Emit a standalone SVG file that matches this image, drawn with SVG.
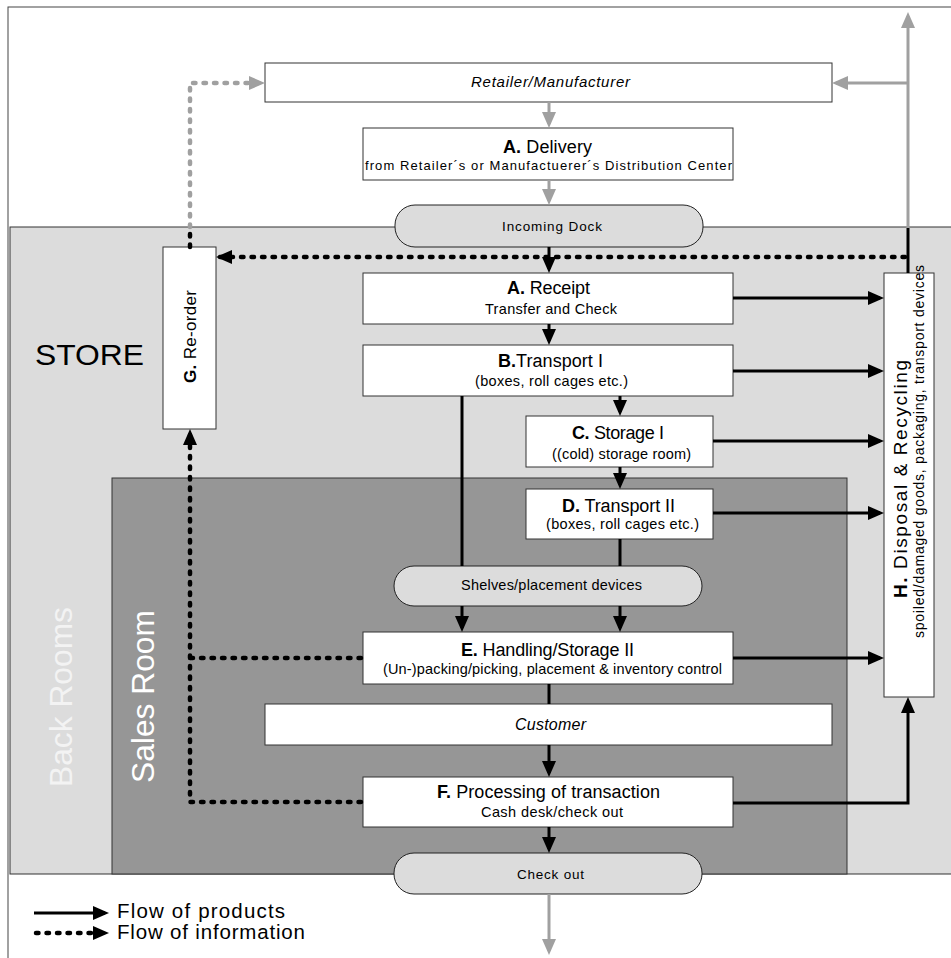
<svg xmlns="http://www.w3.org/2000/svg" width="951" height="958" viewBox="0 0 951 958">
<style>
text{font-family:"Liberation Sans",Arial,sans-serif;fill:#000}
.box{fill:#fff;stroke:#333;stroke-width:1}
.pill{fill:#dcdcdc;stroke:#222;stroke-width:1}
.t17{font-size:18px}
.t14{font-size:14.5px}
.t13{font-size:13.5px}
.it{font-style:italic}
.b{font-weight:bold}
.flow{fill:none;stroke:#000;stroke-width:3}
.grey{fill:none;stroke:#a0a0a0;stroke-width:3}
.info{fill:none;stroke:#000;stroke-width:4.5;stroke-dasharray:2.5 8;stroke-linecap:round}
.ginfo{fill:none;stroke:#a0a0a0;stroke-width:4.5;stroke-dasharray:2.5 8;stroke-linecap:round}
</style>
<defs>
<marker id="ab" markerUnits="userSpaceOnUse" markerWidth="16" markerHeight="14" refX="12" refY="7" orient="auto"><path d="M0,0 L16,7 L0,14 z" fill="#000"/></marker>
<marker id="ag" markerUnits="userSpaceOnUse" markerWidth="16" markerHeight="14" refX="12" refY="7" orient="auto"><path d="M0,0 L16,7 L0,14 z" fill="#a0a0a0"/></marker>
</defs>
<rect x="0" y="0" width="951" height="958" fill="#fff"/>
<rect x="8" y="7" width="960" height="970" fill="none" stroke="#444" stroke-width="1"/>
<g id="store">
<rect x="10" y="227" width="960" height="647" fill="#dcdcdc" stroke="#333" stroke-width="1"/>
<text x="35" y="365" font-size="30" textLength="109" lengthAdjust="spacingAndGlyphs">STORE</text>
<text transform="translate(72,697) rotate(-90)" font-size="31" text-anchor="middle" style="fill:#f3f3f3" textLength="180" lengthAdjust="spacingAndGlyphs">Back Rooms</text>
</g>
<g id="sales-room">
<rect x="112" y="478" width="735" height="396" fill="#969696" stroke="#333" stroke-width="1"/>
<text transform="translate(154,696.5) rotate(-90)" font-size="31" text-anchor="middle" style="fill:#fff" textLength="173" lengthAdjust="spacingAndGlyphs">Sales Room</text>
</g>
<g id="retailer">
<rect class="box" x="265" y="63" width="567" height="39"/>
<text class="it" x="550.5" y="87" font-size="15" text-anchor="middle" textLength="159" lengthAdjust="spacing">Retailer/Manufacturer</text>
</g>
<g id="delivery">
<rect class="box" x="363" y="128" width="370" height="52"/>
<text class="t17" x="547.5" y="153" text-anchor="middle" textLength="89" lengthAdjust="spacing"><tspan class="b">A.</tspan> Delivery</text>
<text x="548.5" y="170" font-size="13" text-anchor="middle" textLength="367" lengthAdjust="spacing">from Retailer´s or Manufactuerer´s Distribution Center</text>
</g>
<g id="incoming-dock">
<rect class="pill" x="395" y="205" width="308" height="42" rx="20" ry="20"/>
<text class="t13" x="552" y="231" text-anchor="middle" textLength="100" lengthAdjust="spacing">Incoming Dock</text>
</g>
<g id="reorder">
<rect class="box" x="163" y="247" width="53" height="182"/>
<text transform="translate(196,336.5) rotate(-90)" font-size="17" text-anchor="middle" textLength="93" lengthAdjust="spacing"><tspan class="b">G.</tspan> Re-order</text>
</g>
<g id="receipt">
<rect class="box" x="363" y="273" width="370" height="51"/>
<text class="t17" x="548.5" y="294" text-anchor="middle" textLength="83" lengthAdjust="spacing"><tspan class="b">A.</tspan> Receipt</text>
<text class="t14" x="551" y="314" text-anchor="middle" textLength="132" lengthAdjust="spacing">Transfer and Check</text>
</g>
<g id="transport1">
<rect class="box" x="363" y="345" width="370" height="51"/>
<text class="t17" x="550.5" y="367" text-anchor="middle" textLength="105" lengthAdjust="spacing"><tspan class="b">B.</tspan>Transport I</text>
<text class="t14" x="551.5" y="386" text-anchor="middle" textLength="153" lengthAdjust="spacing">(boxes, roll cages etc.)</text>
</g>
<g id="storage1">
<rect class="box" x="526" y="416" width="187" height="51"/>
<text class="t17" x="618" y="439" text-anchor="middle" textLength="92" lengthAdjust="spacing"><tspan class="b">C.</tspan> Storage I</text>
<text class="t14" x="621.5" y="459" text-anchor="middle" textLength="139" lengthAdjust="spacing">((cold) storage room)</text>
</g>
<g id="transport2">
<rect class="box" x="526" y="489" width="187" height="50"/>
<text class="t17" x="618.5" y="512" text-anchor="middle" textLength="113" lengthAdjust="spacing"><tspan class="b">D.</tspan> Transport II</text>
<text class="t14" x="622.5" y="529" text-anchor="middle" textLength="153" lengthAdjust="spacing">(boxes, roll cages etc.)</text>
</g>
<g id="shelves">
<rect class="pill" x="394" y="566" width="308" height="40" rx="20" ry="20"/>
<text class="t14" x="551.5" y="590" text-anchor="middle" textLength="181" lengthAdjust="spacing">Shelves/placement devices</text>
</g>
<g id="handling">
<rect class="box" x="363" y="632" width="370" height="52"/>
<text class="t17" x="547.5" y="656" text-anchor="middle" textLength="173" lengthAdjust="spacing"><tspan class="b">E.</tspan> Handling/Storage II</text>
<text class="t14" x="552.5" y="674" text-anchor="middle" textLength="339" lengthAdjust="spacing">(Un-)packing/picking, placement &amp; inventory control</text>
</g>
<g id="customer">
<rect class="box" x="265" y="704" width="567" height="41"/>
<text class="it" x="550.5" y="730" font-size="16" text-anchor="middle" textLength="71" lengthAdjust="spacing">Customer</text>
</g>
<g id="transaction">
<rect class="box" x="363" y="777" width="370" height="50"/>
<text class="t17" x="548.5" y="798" text-anchor="middle" textLength="223" lengthAdjust="spacing"><tspan class="b">F.</tspan> Processing of transaction</text>
<text class="t14" x="552" y="817" text-anchor="middle" textLength="142" lengthAdjust="spacing">Cash desk/check out</text>
</g>
<g id="checkout">
<rect class="pill" x="394" y="853" width="308" height="41" rx="20" ry="20"/>
<text class="t13" x="550.5" y="879" text-anchor="middle" textLength="67" lengthAdjust="spacing">Check out</text>
</g>
<g id="disposal">
<rect class="box" x="884" y="273" width="50" height="424"/>
<text transform="translate(907,479) rotate(-90)" font-size="19" text-anchor="middle" textLength="238" lengthAdjust="spacing"><tspan class="b">H.</tspan> Disposal &amp; Recycling</text>
<text transform="translate(924,451.5) rotate(-90)" font-size="14" text-anchor="middle" textLength="373" lengthAdjust="spacing">spoiled/damaged goods, packaging, transport devices</text>
</g>
<g id="connectors">
<path class="grey" d="M549,102 V124" marker-end="url(#ag)"/>
<path class="grey" d="M549,180 V201" marker-end="url(#ag)"/>
<path class="grey" d="M908,228 V16" marker-end="url(#ag)"/>
<path class="grey" d="M908,83 H836" marker-end="url(#ag)"/>
<path class="grey" d="M549,894 V951" marker-end="url(#ag)"/>
<path class="ginfo" d="M190,227 V83 H261" marker-end="url(#ag)"/>
<path class="info" d="M190,247 V229"/>
<path class="info" d="M905,257 H220" marker-end="url(#ab)"/>
<path class="info" d="M361,658 H190"/>
<path class="info" d="M361,802 H190 V433" marker-end="url(#ab)"/>
<path class="flow" d="M549,247 V269" marker-end="url(#ab)"/>
<path class="flow" d="M549,324 V341" marker-end="url(#ab)"/>
<path class="flow" d="M620,396 V412" marker-end="url(#ab)"/>
<path class="flow" d="M620,467 V485" marker-end="url(#ab)"/>
<path class="flow" d="M620,539 V566"/>
<path class="flow" d="M462,396 V566"/>
<path class="flow" d="M462,606 V628" marker-end="url(#ab)"/>
<path class="flow" d="M620,606 V628" marker-end="url(#ab)"/>
<path class="flow" d="M549,684 V704"/>
<path class="flow" d="M549,745 V773" marker-end="url(#ab)"/>
<path class="flow" d="M549,827 V849" marker-end="url(#ab)"/>
<path class="flow" d="M733,298 H880" marker-end="url(#ab)"/>
<path class="flow" d="M733,371 H880" marker-end="url(#ab)"/>
<path class="flow" d="M713,441 H880" marker-end="url(#ab)"/>
<path class="flow" d="M713,513 H880" marker-end="url(#ab)"/>
<path class="flow" d="M733,658 H880" marker-end="url(#ab)"/>
<path class="flow" d="M733,803 H908 V701" marker-end="url(#ab)"/>
<path class="flow" d="M908,273 V228"/>
</g>
<g id="legend">
<path class="flow" d="M34,913 H105" marker-end="url(#ab)"/>
<path class="info" d="M36,933 H105" marker-end="url(#ab)"/>
<text x="117" y="918" font-size="20.5" textLength="168" lengthAdjust="spacing">Flow of products</text>
<text x="117" y="939" font-size="20.5" textLength="188" lengthAdjust="spacing">Flow of information</text>
</g>
</svg>
